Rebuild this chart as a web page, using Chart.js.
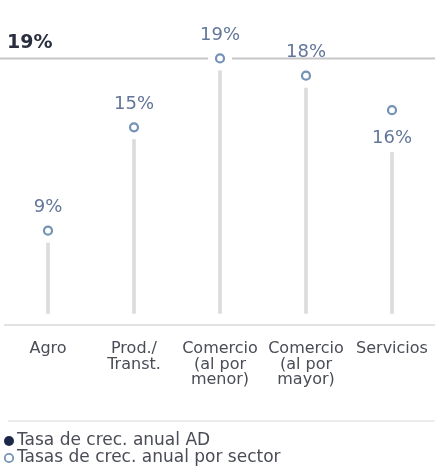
<!DOCTYPE html>
<html lang="es">
<head>
<meta charset="utf-8">
<script src="https://cdn.jsdelivr.net/npm/chart.js@4.4.1/dist/chart.umd.min.js"></script>
<style>
    html, body { margin: 0; padding: 0; background: #fff; }
    #wrap { width: 435px; height: 470px; position: relative; }
</style>
</head>
<body>
<div id="wrap"><canvas id="grafico"></canvas></div>
<script>
// Sectores y tasas de crecimiento anual
const sectores = ['Agro', ['Prod./', 'Transt.'], ['Comercio', '(al por', 'menor)'], ['Comercio', '(al por', 'mayor)'], 'Servicios'];
const tasasSector = [9, 15, 19, 18, 16];
const tasaAD = 19;
const leyenda = ['Tasa de crec. anual AD', 'Tasas de crec. anual por sector'];

// Valor donde arrancan los tallos verticales
const baseTallo = 4.2;

const FUENTE = "'DejaVu Sans', 'Open Sans', sans-serif";
const AZUL = '#7392b5';
const AZUL_TEXTO = '#62769a';
const NAVY = '#1c2849';
const GRIS_TEXTO = '#4a4c56';

// Dibuja la línea de referencia, las etiquetas de valor y la leyenda
const decoraciones = {
    id: 'decoraciones',
    beforeDatasetsDraw(chart) {
        const { ctx, scales: { y } } = chart;
        const yRef = y.getPixelForValue(tasaAD);
        ctx.save();
        ctx.strokeStyle = '#c6c6c6';
        ctx.lineWidth = 2;
        ctx.beginPath();
        ctx.moveTo(0, yRef);
        ctx.lineTo(chart.width, yRef);
        ctx.stroke();
        ctx.restore();
    },
    afterDatasetsDraw(chart) {
        const { ctx, scales: { x, y } } = chart;
        ctx.save();
        ctx.font = `18px ${FUENTE}`;
        ctx.textAlign = 'center';
        ctx.textBaseline = 'middle';
        tasasSector.forEach((v, i) => {
            const px = x.getPixelForValue(i);
            const py = y.getPixelForValue(v);
            // el último sector lleva la etiqueta debajo del punto
            const abajo = i === tasasSector.length - 1;
            const ty = abajo ? py + 28 : py - 23;
            const texto = `${v}%`;
            if (abajo) {
                const w = ctx.measureText(texto).width;
                ctx.fillStyle = '#fff';
                ctx.fillRect(px - w / 2 - 3, ty - 18, w + 6, 32);
            }
            ctx.fillStyle = AZUL_TEXTO;
            ctx.fillText(texto, px, ty);
        });

        // Etiqueta de la tasa AD
        ctx.textAlign = 'left';
        ctx.font = `bold 19px ${FUENTE}`;
        ctx.fillStyle = '#2b2e3f';
        ctx.fillText(`${tasaAD}%`, 7, y.getPixelForValue(tasaAD) - 15);
        ctx.restore();
    },
    afterDraw(chart) {
        const { ctx } = chart;
        ctx.save();
        // Separador sobre la leyenda
        ctx.strokeStyle = '#ededed';
        ctx.lineWidth = 2;
        ctx.beginPath();
        ctx.moveTo(8, 421);
        ctx.lineTo(chart.width, 421);
        ctx.stroke();

        ctx.font = `17px ${FUENTE}`;
        ctx.textBaseline = 'middle';
        ctx.textAlign = 'left';
        const filas = [441, 458];
        // Punto relleno: tasa AD
        ctx.fillStyle = NAVY;
        ctx.beginPath();
        ctx.arc(9, filas[0], 5, 0, Math.PI * 2);
        ctx.fill();
        // Punto hueco: tasas por sector
        ctx.strokeStyle = AZUL;
        ctx.lineWidth = 1.8;
        ctx.beginPath();
        ctx.arc(9, filas[1], 4.2, 0, Math.PI * 2);
        ctx.stroke();

        ctx.fillStyle = GRIS_TEXTO;
        leyenda.forEach((t, i) => ctx.fillText(t, 17, filas[i]));
        ctx.restore();
    }
};

const ctx = document.getElementById('grafico').getContext('2d');

new Chart(ctx, {
    type: 'bar',
    data: {
        labels: sectores,
        datasets: [
            {
                // Tallos verticales
                type: 'bar',
                data: tasasSector.map(v => [baseTallo, v]),
                backgroundColor: '#dcdcdc',
                barThickness: 3,
                borderWidth: 0,
                order: 3
            },
            {
                // Halo blanco que separa el punto del tallo
                type: 'line',
                data: tasasSector,
                showLine: false,
                pointRadius: 12,
                pointBackgroundColor: '#fff',
                pointBorderWidth: 0,
                pointHoverRadius: 12,
                order: 2
            },
            {
                type: 'line',
                data: tasasSector,
                showLine: false,
                pointRadius: 4,
                pointBorderWidth: 2.2,
                pointBorderColor: AZUL,
                pointBackgroundColor: '#fff',
                order: 1
            }
        ]
    },
    options: {
        responsive: true,
        maintainAspectRatio: false,
        animation: false,
        layout: {
            autoPadding: false,
            padding: { top: 24, left: 5, right: 0, bottom: 66 }
        },
        plugins: {
            legend: { display: false },
            tooltip: { enabled: false }
        },
        scales: {
            x: {
                grid: { display: false, drawTicks: false },
                border: { display: true, color: '#e2e2e2', width: 2 },
                ticks: {
                    padding: 16,
                    color: GRIS_TEXTO,
                    font: { family: FUENTE, size: 16, lineHeight: 0.97 },
                    maxRotation: 0,
                    autoSkip: false
                },
                // Sin margen extra a los lados por las etiquetas
                afterFit(scale) {
                    scale.paddingLeft = 0;
                    scale.paddingRight = 0;
                }
            },
            y: {
                display: false,
                min: 3.5,
                max: 21
            }
        }
    },
    plugins: [decoraciones]
});
</script>
</body>
</html>
